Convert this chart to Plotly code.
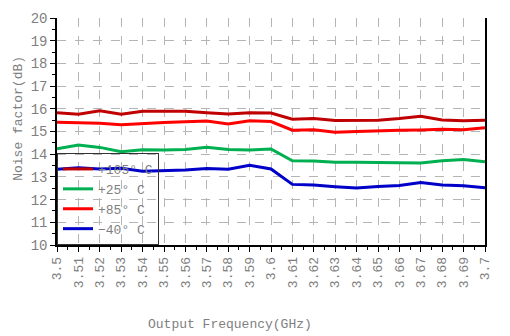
import plotly.graph_objects as go

freq = [3.50, 3.51, 3.52, 3.53, 3.54, 3.55, 3.56, 3.57, 3.58, 3.59, 3.60,
        3.61, 3.62, 3.63, 3.64, 3.65, 3.66, 3.67, 3.68, 3.69, 3.70]
tick_labels = ["3.5", "3.51", "3.52", "3.53", "3.54", "3.55", "3.56", "3.57", "3.58", "3.59", "3.6",
               "3.61", "3.62", "3.63", "3.64", "3.65", "3.66", "3.67", "3.68", "3.69", "3.7"]

nf_105 = [15.83, 15.76, 15.91, 15.76, 15.89, 15.90, 15.89, 15.83, 15.77, 15.83, 15.81,
          15.54, 15.57, 15.48, 15.48, 15.50, 15.57, 15.67, 15.51, 15.47, 15.50]
nf_25 = [14.24, 14.40, 14.30, 14.11, 14.20, 14.18, 14.21, 14.31, 14.21, 14.18, 14.23,
         13.71, 13.70, 13.65, 13.65, 13.64, 13.64, 13.61, 13.71, 13.77, 13.67]
nf_85 = [15.41, 15.40, 15.36, 15.30, 15.36, 15.40, 15.43, 15.46, 15.33, 15.47, 15.44,
         15.06, 15.08, 14.97, 15.00, 15.04, 15.06, 15.07, 15.10, 15.08, 15.17]
nf_m40 = [13.34, 13.40, 13.35, 13.38, 13.25, 13.27, 13.30, 13.37, 13.34, 13.51, 13.35,
          12.67, 12.64, 12.57, 12.51, 12.58, 12.62, 12.75, 12.64, 12.61, 12.52]

series = [("+105° C", nf_105, "#C00000"),
          ("+25° C", nf_25, "#00B050"),
          ("+85° C", nf_85, "#FF0000"),
          ("−40° C", nf_m40, "#0000C8")]

FONT = "Liberation Mono"
GRAY = "#7f7f7f"

fig = go.Figure()
for name, vals, col in series:
    fig.add_trace(go.Scatter(x=freq, y=vals, name=name, mode="lines",
                             line=dict(color=col, width=3)))

fig.update_layout(
    width=510, height=336,
    margin=dict(l=57, r=25, t=11, b=91),
    paper_bgcolor="white", plot_bgcolor="white",
    font=dict(family=FONT, size=13, color=GRAY),
    showlegend=True,
    legend=dict(x=0, y=0, xanchor="left", yanchor="bottom",
                bgcolor="rgba(0,0,0,0)", bordercolor="#333333", borderwidth=1,
                font=dict(family=FONT, size=13, color=GRAY),
                tracegroupgap=0, itemwidth=30),
    xaxis=dict(range=[3.5, 3.7], tickvals=freq, ticktext=tick_labels,
               tickangle=-90, showline=True, linecolor="black", linewidth=1.5,
               ticks="outside", ticklen=5, tickcolor="black",
               showgrid=True, gridcolor="#b5b5b5", griddash="dash", gridwidth=1,
               zeroline=False, mirror=False,
               minor=dict(dtick=0.005, tick0=3.5, ticks="outside", ticklen=3, tickcolor="black", showgrid=False),
               tickfont=dict(family=FONT, size=13, color=GRAY)),
    yaxis=dict(range=[10, 20], dtick=1, showline=True, linecolor="black", linewidth=1.5,
               mirror=True, ticks="outside", ticklen=5, tickcolor="black",
               showgrid=True, gridcolor="#b5b5b5", griddash="dash", gridwidth=1,
               zeroline=False,
               minor=dict(dtick=0.5, ticks="outside", ticklen=3, tickcolor="black", showgrid=False),
               tickfont=dict(family=FONT, size=14, color=GRAY)),
)

fig.add_annotation(text="Output Frequency(GHz)", xref="paper", yref="paper",
                   x=0.405, y=-0.35, xanchor="center", yanchor="middle", showarrow=False,
                   font=dict(family=FONT, size=13, color=GRAY))
fig.add_annotation(text="Noise factor(dB)", xref="paper", yref="paper",
                   x=-0.089, y=0.56, xanchor="center", yanchor="middle", showarrow=False,
                   textangle=-90, font=dict(family=FONT, size=13, color=GRAY))

fig.write_html("out.html")
